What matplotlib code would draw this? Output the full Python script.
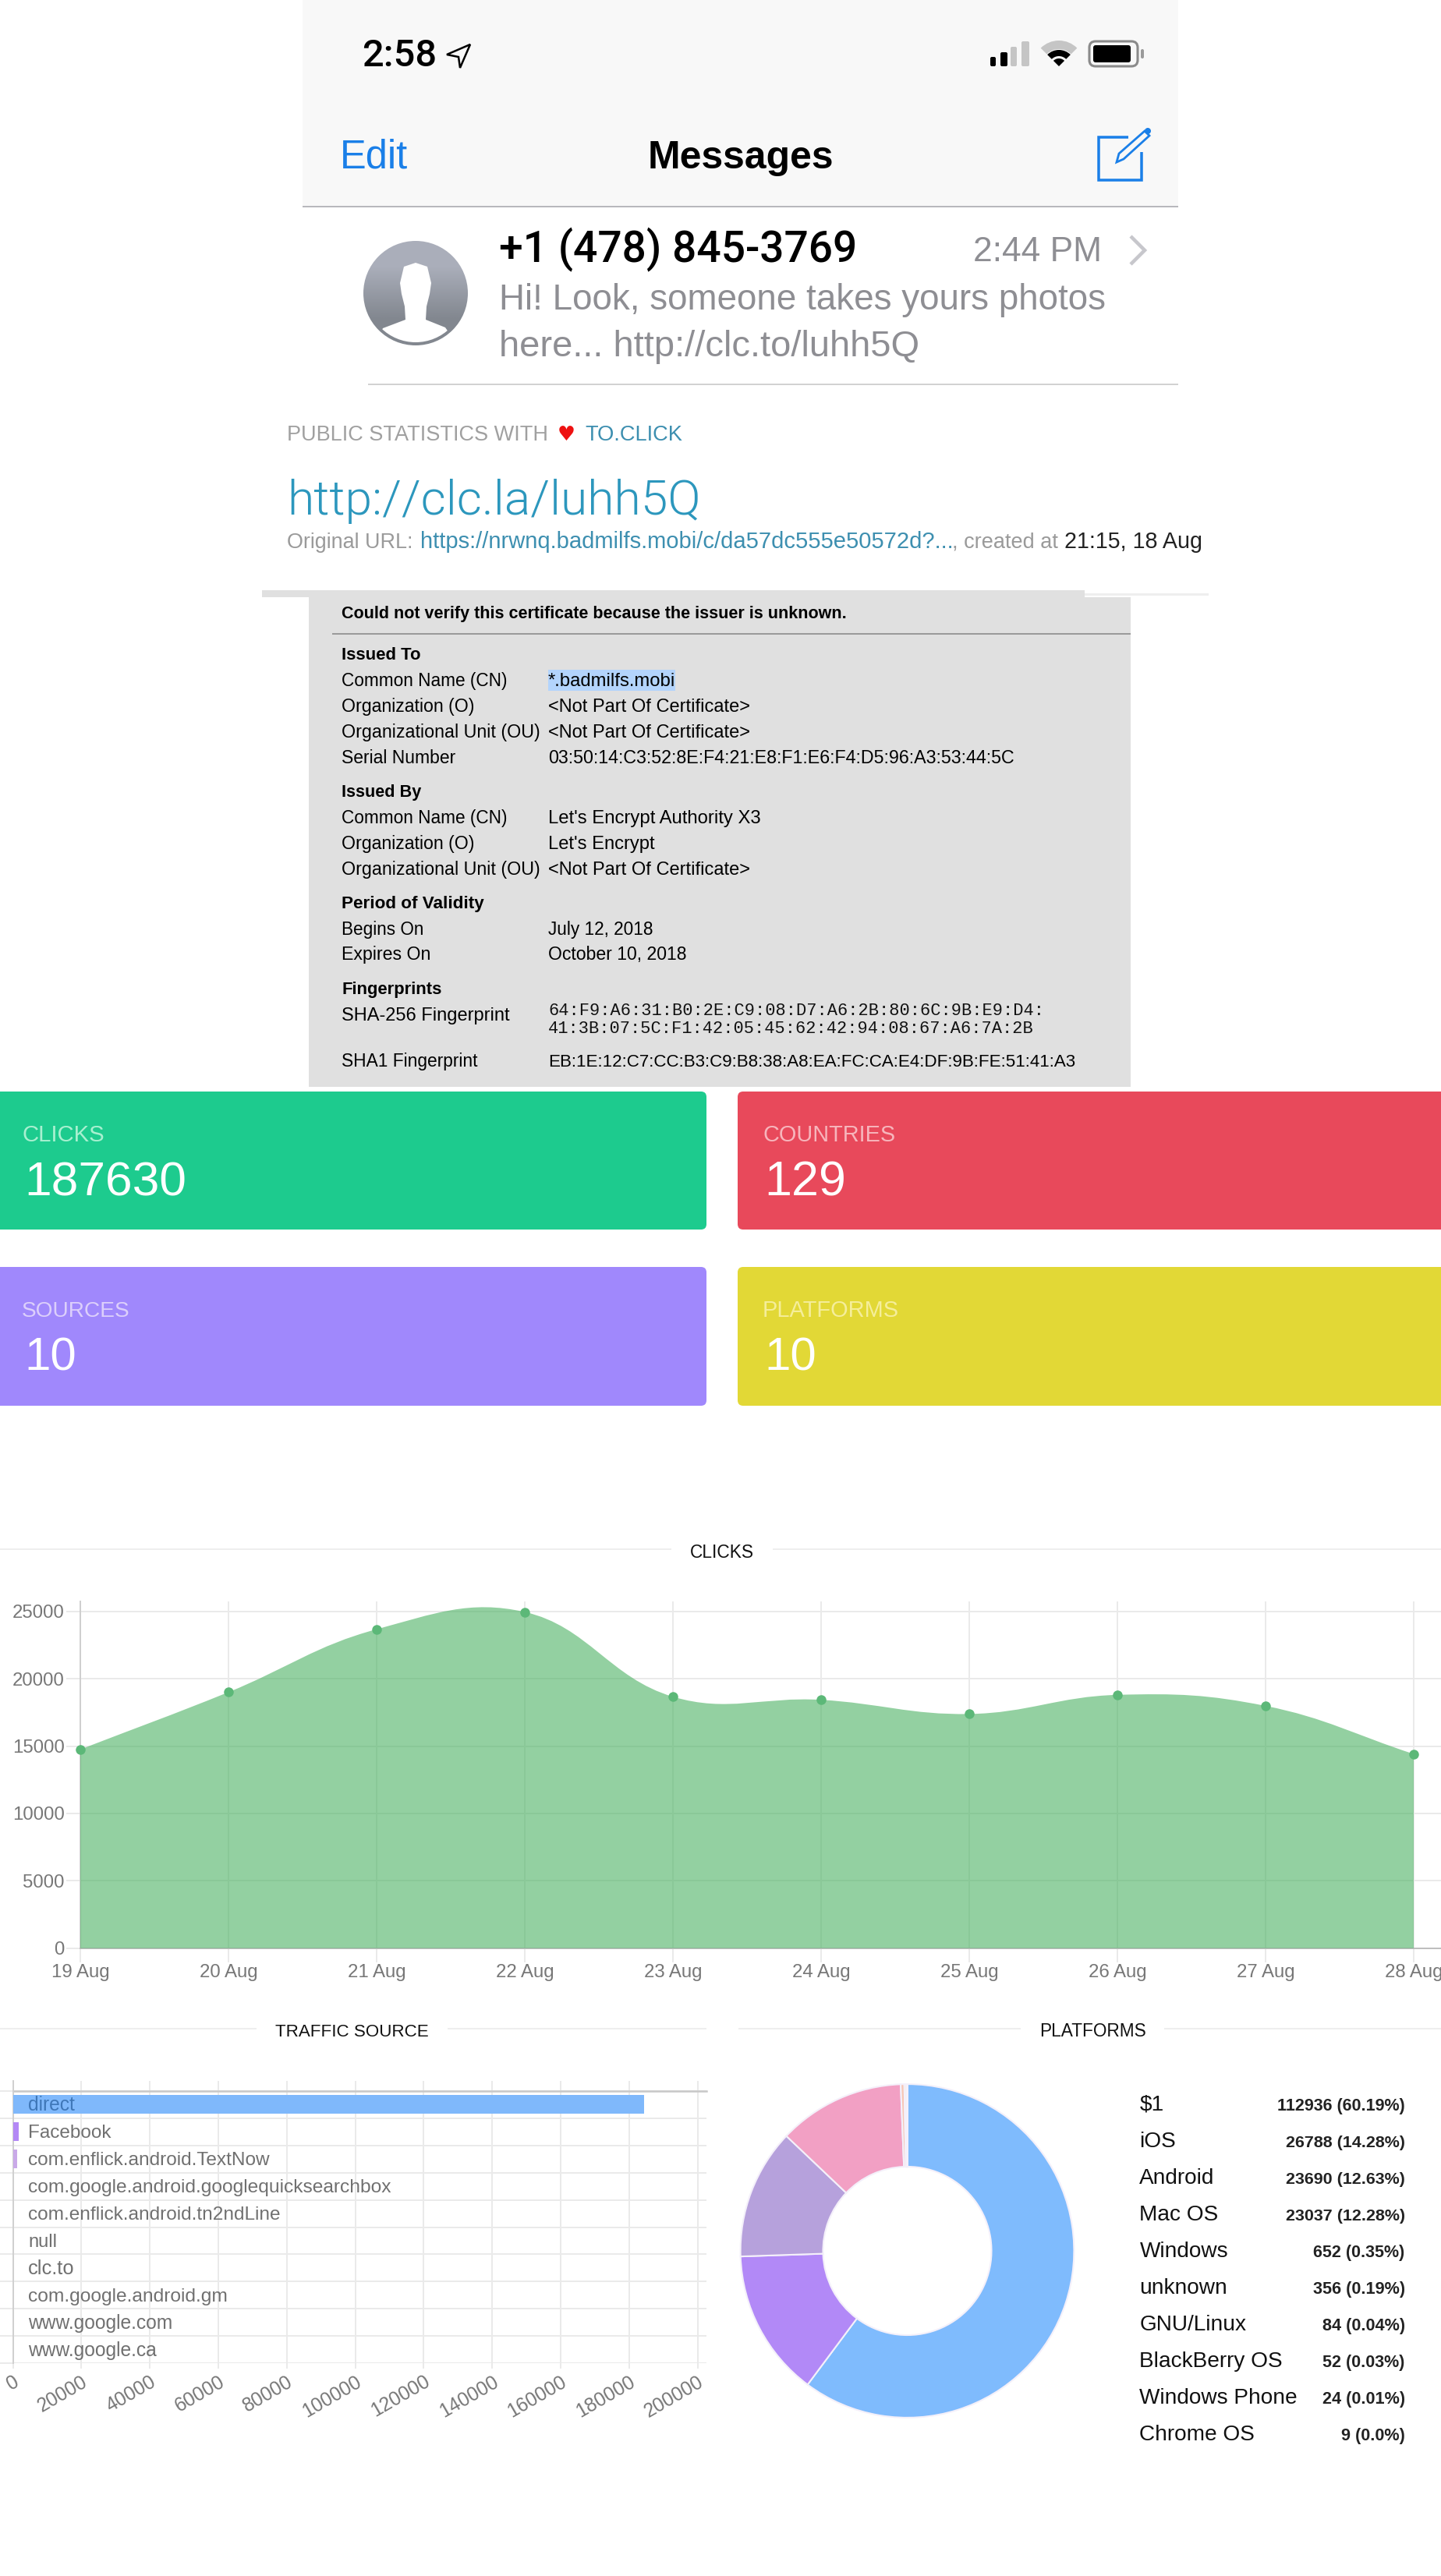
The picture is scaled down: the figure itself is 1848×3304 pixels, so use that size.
import numpy as np
import matplotlib
matplotlib.use("Agg")
import matplotlib.pyplot as plt
from matplotlib.patches import Rectangle, FancyBboxPatch, Circle, Polygon, Wedge, PathPatch
from matplotlib.path import Path

W, H = 1848, 3304
FONT = "Liberation Sans"
plt.rcParams["font.family"] = [FONT, "DejaVu Sans"]

# ---------- chart data ----------
click_days = ["19 Aug", "20 Aug", "21 Aug", "22 Aug", "23 Aug", "24 Aug", "25 Aug", "26 Aug", "27 Aug", "28 Aug"]
click_values = [14750, 19000, 23670, 24950, 18660, 18430, 17380, 18800, 17980, 14410]
click_yticks = [0, 5000, 10000, 15000, 20000, 25000]

source_names = ["direct", "Facebook", "com.enflick.android.TextNow",
                "com.google.android.googlequicksearchbox", "com.enflick.android.tn2ndLine",
                "null", "clc.to", "com.google.android.gm", "www.google.com", "www.google.ca"]
source_values = [184300, 1600, 1200, 200, 120, 80, 50, 30, 20, 15]
source_colors = ["#7fb8fb", "#b388f5", "#c9a9e8", "#f2a0c4", "#f4c0b0", "#f4e0a0", "#b0e0c0", "#a0d0f0", "#d0c0f0", "#f0c0d0"]
source_xticks = [0, 20000, 40000, 60000, 80000, 100000, 120000, 140000, 160000, 180000, 200000]

platform_names = ["$1", "iOS", "Android", "Mac OS", "Windows", "unknown", "GNU/Linux",
                  "BlackBerry OS", "Windows Phone", "Chrome OS"]
platform_counts = [112936, 26788, 23690, 23037, 652, 356, 84, 52, 24, 9]
platform_pcts = ["60.19", "14.28", "12.63", "12.28", "0.35", "0.19", "0.04", "0.03", "0.01", "0.0"]
platform_colors = ["#7fbbfd", "#b289f7", "#b6a1dc", "#f2a0c4", "#f6c6b4", "#f4e3b0",
                   "#cfe8c8", "#c8e0f4", "#dcd0f0", "#f4d0e0"]

cards = [("CLICKS", "187630"), ("COUNTRIES", "129"), ("SOURCES", "10"), ("PLATFORMS", "10")]

fig = plt.figure(figsize=(W / 100, H / 100), dpi=100, facecolor="white")
ov = fig.add_axes([0, 0, 1, 1])
ov.set_xlim(0, W)
ov.set_ylim(H, 0)
ov.axis("off")
rend = fig.canvas.get_renderer()


def T(x0, y, s, x1, color="black", weight="normal", family=None, right=False, zorder=5):
    """text on a baseline, sized so that it spans x0..x1 in pixels"""
    kw = {}
    if family:
        kw["family"] = family
    t = ov.text(x1 if right else x0, y, s, color=color, fontweight=weight, fontsize=20,
                va="baseline", ha="right" if right else "left", zorder=zorder, **kw)
    w = t.get_window_extent(rend).width
    t.set_fontsize(20 * (x1 - x0) / w)
    return t


def R(x0, y0, x1, y1, color, z=1):
    ov.add_patch(Rectangle((x0, y0), x1 - x0, y1 - y0, fc=color, ec="none", zorder=z))


def RR(x0, y0, x1, y1, color, r=6, z=1, ec="none", lw=0):
    ov.add_patch(FancyBboxPatch((x0, y0), x1 - x0, y1 - y0, boxstyle=f"round,pad=0,rounding_size={r}",
                                fc=color, ec=ec, lw=lw, zorder=z))


def L(xs, ys, color, lw_px=2, z=2):
    ov.plot(xs, ys, color=color, lw=lw_px * 0.72, zorder=z, solid_capstyle="butt", solid_joinstyle="miter")


def axrect(x0, y0, x1, y1):
    return [x0 / W, 1 - y1 / H, (x1 - x0) / W, (y1 - y0) / H]


# ---------- phone screenshot ----------
R(388, 0, 1511, 264, "#f8f8f8")
L([388, 1511], [264.5, 264.5], "#b8b8bc", 2)
T(464, 85, "2:58", 560, weight=500, family="Roboto")
ov.add_patch(Polygon([(603, 57), (573, 70), (588, 73), (590, 87)], fc="#f8f8f8", ec="black", lw=1.8, zorder=3))
for (a, b, top, c) in [(1270, 1277, 73, "#000000"), (1283, 1292, 67, "#000000"),
                       (1296, 1304, 60, "#c5c5c5"), (1310, 1320, 53, "#c5c5c5")]:
    RR(a, top, b, 85, c, r=2, z=3)
ov.add_patch(Wedge((1358, 85), 33, 225, 315, width=11, fc="#c5c5c5", ec="none", zorder=3))
ov.add_patch(Wedge((1358, 85), 21, 225, 315, width=8, fc="black", ec="none", zorder=3))
ov.add_patch(Wedge((1358, 85), 10, 225, 315, fc="black", ec="none", zorder=3))
RR(1397, 53, 1459, 85, "#f8f8f8", r=8, z=3, ec="#8a8a8a", lw=2.2)
RR(1402, 58, 1450, 80, "black", r=3, z=4)
RR(1463, 63, 1467, 75, "#9a9a9a", r=2, z=3)

BLUE = "#1a7fe8"
T(436, 216, "Edit", 523, color=BLUE)
T(831, 216, "Messages", 1069, weight="bold")
L([1447, 1409, 1409, 1464, 1464], [176, 176, 231, 231, 195], BLUE, 3.5, z=3)
ov.add_patch(Polygon([(1432, 208), (1435, 197), (1468, 168), (1474, 174), (1441, 204)],
                     fc="#f8f8f8", ec=BLUE, lw=2, zorder=4))
ov.add_patch(Circle((1472, 168), 4, fc=BLUE, ec="none", zorder=4))

clip = Circle((533, 376), 67, transform=ov.transData)
im = ov.imshow(np.array([[0.0], [1.0]]), extent=(466, 600, 443, 309), aspect="auto", zorder=2,
               cmap=matplotlib.colors.LinearSegmentedColormap.from_list("g", ["#aaaeba", "#82878f"]),
               interpolation="bilinear")
im.set_clip_path(clip)
ov.set_xlim(0, W)
ov.set_ylim(H, 0)
sil = Polygon([(533, 337), (548, 342), (553, 363), (551, 377), (547, 393), (546, 410), (571, 420), (585, 440),
               (533, 446), (481, 440), (491, 421), (520, 410), (519, 393), (515, 377), (513, 363), (518, 342)],
              fc="white", ec="none", zorder=3)
ov.add_patch(sil)
sil.set_clip_path(Circle((533, 376), 63, transform=ov.transData))

T(640, 336, "+1 (478) 845-3769", 1099, weight=500, family="Roboto")
T(1248, 335, "2:44 PM", 1413, color="#8e8e93")
L([1450, 1468, 1450], [303, 321, 339], "#c7c7cc", 4.5)
T(640, 397, "Hi! Look, someone takes yours photos", 1417, color="#8e8e93")
T(640, 457, "here... http://clc.to/luhh5Q", 1178, color="#8e8e93")
L([472, 1511], [492.5, 492.5], "#d2d2d2", 2)

# ---------- stats header ----------
TEAL = "#3d8fb0"
T(368, 565, "PUBLIC STATISTICS WITH", 703, color="#a0a0a0")
T(715, 565, "\u2665", 738, color="#ee1111", family="DejaVu Sans")
T(750, 565, "TO.CLICK", 875, color=TEAL)
T(368, 660, "http://clc.la/luhh5Q", 898, color="#2c97bd", weight=300, family="Roboto")
T(368, 703, "Original URL:", 529, color="#9a9a9a")
T(539, 703, "https://nrwnq.badmilfs.mobi/c/da57dc555e50572d?...", 1221, color=TEAL)
T(1221, 703, ", created at", 1356, color="#9a9a9a")
T(1365, 703, "21:15, 18 Aug", 1542, color="#222222")

# ---------- certificate panel ----------
R(336, 757, 1391, 766, "#e0e0e0")
R(1391, 761, 1550, 764, "#eeeeee")
R(396, 766, 1450, 1394, "#e0e0e0")
L([426, 1450], [813, 813], "#9a9a9a", 2)
R(703, 859, 866, 886, "#b3d4fc", z=2)
cert_rows = [
    (793, "Could not verify this certificate because the issuer is unknown.", 1084, True, None, None),
    (846.5, "Issued To", 540, True, None, None),
    (880, "Common Name (CN)", 650, False, "*.badmilfs.mobi", 866),
    (913, "Organization (O)", 609, False, "<Not Part Of Certificate>", 962),
    (946, "Organizational Unit (OU)", 692, False, "<Not Part Of Certificate>", 962),
    (979, "Serial Number", 584, False, "03:50:14:C3:52:8E:F4:21:E8:F1:E6:F4:D5:96:A3:53:44:5C", 1302),
    (1022, "Issued By", 540, True, None, None),
    (1056, "Common Name (CN)", 650, False, "Let's Encrypt Authority X3", 975),
    (1089, "Organization (O)", 609, False, "Let's Encrypt", 839),
    (1122, "Organizational Unit (OU)", 692, False, "<Not Part Of Certificate>", 962),
    (1165, "Period of Validity", 620, True, None, None),
    (1199, "Begins On", 543, False, "July 12, 2018", 838),
    (1231, "Expires On", 552, False, "October 10, 2018", 881),
    (1275.5, "Fingerprints", 566, True, None, None),
    (1309, "SHA-256 Fingerprint", 653, False, None, None),
    (1368, "SHA1 Fingerprint", 612, False, "EB:1E:12:C7:CC:B3:C9:B8:38:A8:EA:FC:CA:E4:DF:9B:FE:51:41:A3", 1378),
]
for y, left, x1, bold, right, rx1 in cert_rows:
    T(438, y, left, x1, color="black", weight="bold" if bold else "normal")
    if right:
        T(703, y, right, rx1, color="black")
T(703, 1302, "64:F9:A6:31:B0:2E:C9:08:D7:A6:2B:80:6C:9B:E9:D4:", 1335, family="Liberation Mono", color="#111111")
T(703, 1325, "41:3B:07:5C:F1:42:05:45:62:42:94:08:67:A6:7A:2B", 1323, family="Liberation Mono", color="#111111")

# ---------- stat cards ----------
card_geo = [(-12, 906, 1400, 1577, "#1dcb8e", "#a8f0d0", 28, 134, 31, 239),
            (946, 1860, 1400, 1577, "#e8495b", "#f7b5bc", 978, 1148, 980, 1085),
            (-12, 906, 1625, 1803, "#a088fc", "#dccffb", 28, 167, 31, 98),
            (946, 1860, 1625, 1803, "#e2d836", "#f5ee9a", 978, 1153, 980, 1047)]
for (title, value), (x0, x1, y0, y1, c, tc, a, b, d, e) in zip(cards, card_geo):
    RR(x0, y0, x1, y1, c, r=7)
    T(a, y0 + 64, title, b, color=tc)
    T(d, y0 + 133, value, e, color="white")

# ---------- section headings ----------
HEAD = "#eeeeee"
for y, txt, tx0, tx1, segs in [
    (1997.5, "CLICKS", 885, 967, [(0, 861), (991, 1848)]),
    (2612.4, "TRAFFIC SOURCE", 353, 549, [(0, 329), (573.5, 906)]),
    (2612.4, "PLATFORMS", 1333, 1469, [(947, 1309), (1493, 1848)]),
]:
    T(tx0, y, txt, tx1, color="#111111")
    ly = y - 10.5
    for a, b in segs:
        L([a, b], [ly, ly], HEAD, 2)

# ---------- clicks chart ----------
GRID = "#eaeaea"
TICK = "#777777"
px_day, px_val = 190.0, 86.4 / 5000
ax = fig.add_axes(axrect(103, 2054, W, 2498.7), facecolor="none")
ax.set_xlim(0, (W - 103) / px_day)
ax.set_ylim(0, (2498.7 - 2054) / px_val)
ax.set_xticks(range(len(click_days)), click_days)
ax.set_yticks(click_yticks, [str(v) for v in click_yticks])
ax.tick_params(axis="both", length=13, width=1.4, color=GRID, labelcolor=TICK, labelsize=17.3, pad=1.5)
ax.grid(True, color=GRID, lw=1.4)
ax.set_axisbelow(True)
for s in ("top", "right"):
    ax.spines[s].set_visible(False)
ax.spines["left"].set_color("#cfcfcf")
ax.spines["bottom"].set_color("#bdbdbd")
ax.spines["left"].set_linewidth(1.4)
ax.spines["bottom"].set_linewidth(1.4)

days = np.arange(len(click_values), dtype=float)
vals = np.array(click_values, dtype=float)
tension = 0.4
verts, codes = [(days[0], vals[0])], [Path.MOVETO]
cp_in, cp_out = [], []
n = len(days)
for i in range(n):
    p, q = max(i - 1, 0), min(i + 1, n - 1)
    d01 = np.hypot((days[i] - days[p]) * px_day, (vals[i] - vals[p]) * px_val)
    d12 = np.hypot((days[q] - days[i]) * px_day, (vals[q] - vals[i]) * px_val)
    fa, fb = tension * d01 / (d01 + d12), tension * d12 / (d01 + d12)
    cp_in.append((days[i] - fa * (days[q] - days[p]), vals[i] - fa * (vals[q] - vals[p])))
    cp_out.append((days[i] + fb * (days[q] - days[p]), vals[i] + fb * (vals[q] - vals[p])))
for i in range(1, n):
    verts += [cp_out[i - 1], cp_in[i], (days[i], vals[i])]
    codes += [Path.CURVE4] * 3
verts += [(days[-1], 0), (days[0], 0), (days[0], vals[0])]
codes += [Path.LINETO, Path.LINETO, Path.CLOSEPOLY]
ax.add_patch(PathPatch(Path(verts, codes), fc="#4bb262", ec="none", alpha=0.6, zorder=3))
ax.plot(days, vals, ls="none", marker="o", ms=9, mfc="#5cb878", mec="none", zorder=4, clip_on=False)

# ---------- traffic source chart ----------
px_src = 87.8 / 20000
row = 34.98
bx = fig.add_axes(axrect(16.6, 2669, 906, 3031.4), facecolor="none")
bx.set_xlim(0, (906 - 16.6) / px_src)
bx.set_ylim(9.5, -0.5 - (2681.6 - 2669) / row)
bx.barh(range(len(source_values)), source_values, height=0.67, color=source_colors, zorder=3)
bx.set_xticks(source_xticks, [str(v) for v in source_xticks], rotation=30, ha="right", rotation_mode="anchor")
bx.set_yticks(np.arange(-0.5, 10, 1), minor=True)
bx.set_yticks([])
bx.tick_params(axis="x", length=5, width=1.4, color=GRID, labelcolor=TICK, labelsize=17.8, pad=3)
bx.tick_params(axis="y", which="minor", length=12, width=1.4, color=GRID)
bx.grid(True, axis="x", color=GRID, lw=1.4)
bx.grid(True, axis="y", which="minor", color=GRID, lw=1.4)
bx.set_axisbelow(True)
for s in ("top", "right", "bottom"):
    bx.spines[s].set_visible(False)
bx.spines["left"].set_color("#d0d0d0")
bx.spines["left"].set_linewidth(1.4)
bx.axhline(-0.5, color="#c8c8c8", lw=1.8, zorder=2, clip_on=False)
label_targets = [(36, 96), (36, 142), (36, 346), (36, 500), (36, 360), (36, 73), (36, 95), (36, 291), (36, 222), (36, 201)]
for i, (name, (a, b)) in enumerate(zip(source_names, label_targets)):
    y = 2681.6 + row * (i + 0.5) + 8
    T(a, y, name, b, color="#3f77b8" if i == 0 else "#707070", zorder=8)

# ---------- platforms doughnut ----------
px = fig.add_axes(axrect(949.6, 2673, 1377.4, 3101), facecolor="none")
px.pie(platform_counts, colors=platform_colors, startangle=90, counterclock=False, radius=1,
       wedgeprops=dict(width=0.495, edgecolor="#f4f0fa", linewidth=1.5))
px.set_xlim(-1.0, 1.0)
px.set_ylim(-1.0, 1.0)

value_x0 = [1637.5, 1648.5, 1648.5, 1648.5, 1684, 1684, 1696, 1696, 1696, 1720]
for i, (nm, c, p) in enumerate(zip(platform_names, platform_counts, platform_pcts)):
    y = 2706.5 + 47.1 * i
    ov.text(1461.4, y, nm.replace("$", r"\$"), fontsize=20.2, va="baseline", ha="left", color="#111111", zorder=5)
    T(value_x0[i], y, f"{c} ({p}%)", 1801.7, color="#222222", weight="bold", right=True)

ov.set_zorder(5)
ov.patch.set_visible(False)
ax.set_zorder(2)
bx.set_zorder(2)
px.set_zorder(2)

fig.savefig("out.png", dpi=100, facecolor="white")
